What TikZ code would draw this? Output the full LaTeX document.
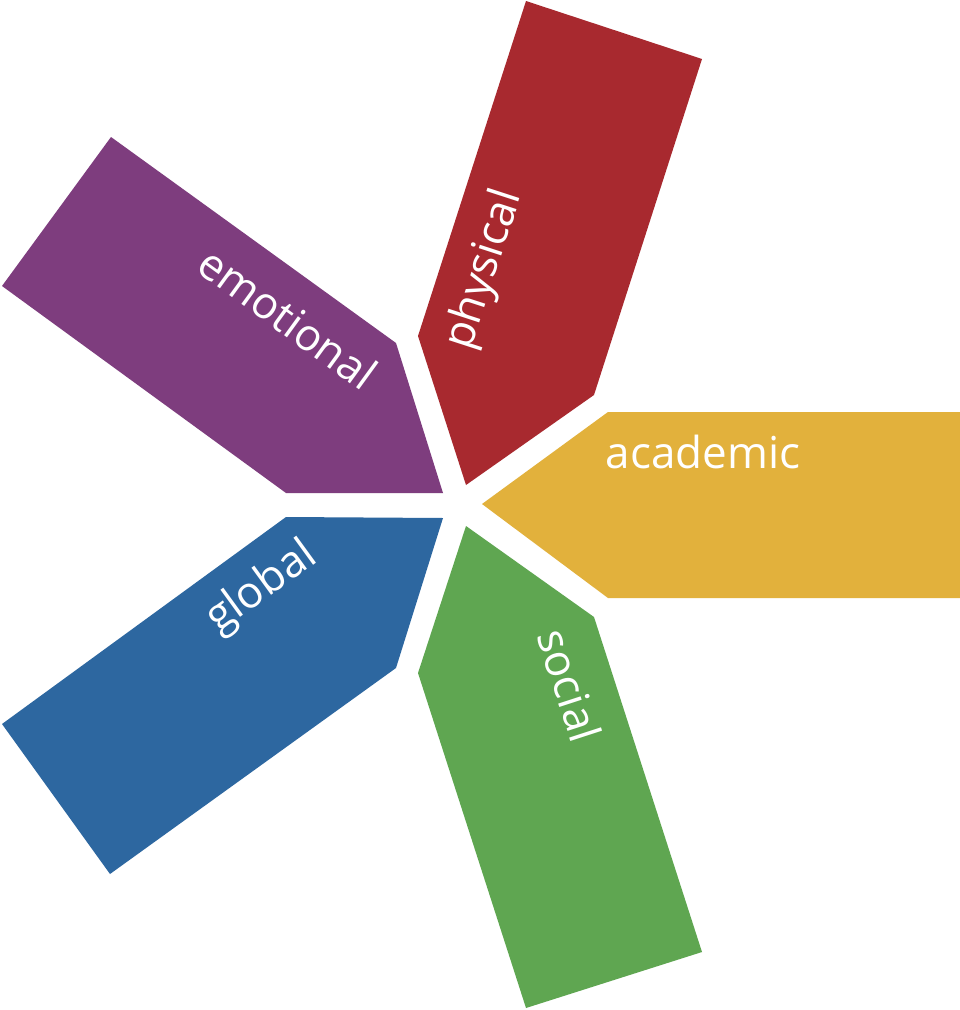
\documentclass[tikz,border=0pt]{standalone}
\usepackage{fontspec}
\setmainfont{Open Sans}
\definecolor{cyellow}{RGB}{226,177,60}
\definecolor{cred}{RGB}{168,41,47}
\definecolor{cpurple}{RGB}{126,61,126}
\definecolor{cblue}{RGB}{45,103,160}
\definecolor{cgreen}{RGB}{95,166,81}
\tikzset{
  petal/.style={draw=none},
  lbl/.style={text=white, font=\fontsize{44}{50}\selectfont, inner sep=0pt, anchor=center}
}
\begin{document}
\begin{tikzpicture}[x=1pt,y=-1pt]
\fill[white] (0,0) rectangle (960,1010);
\useasboundingbox (0,0) rectangle (960,1010);
% academic
\fill[cyellow, petal] (482,504) -- (608,412) -- (960,412) -- (960,598) -- (608,598) -- cycle;
% physical
\fill[cred, petal] (466,485) -- (418,336) -- (526,1) -- (702,59) -- (594,395) -- cycle;
% emotional
\fill[cpurple, petal] (443,493) -- (286,493) -- (2,286) -- (111,137) -- (396,343) -- cycle;
% global
\fill[cblue, petal] (443,518) -- (396,668) -- (110,874) -- (2,724) -- (286,517) -- cycle;
% social
\fill[cgreen, petal] (466,526) -- (594,617) -- (702,952) -- (526,1008) -- (418,673) -- cycle;
\node[lbl] (academic) at (703,452) {academic};
\node[lbl, rotate=72] (physical) at (485,270) {physical};
\node[lbl, rotate=-36] (emotional) at (288,318) {emotional};
\node[lbl, rotate=36] (global) at (262,588) {global};
\node[lbl, rotate=-72] (social) at (570,685) {social};
\end{tikzpicture}
\end{document}
